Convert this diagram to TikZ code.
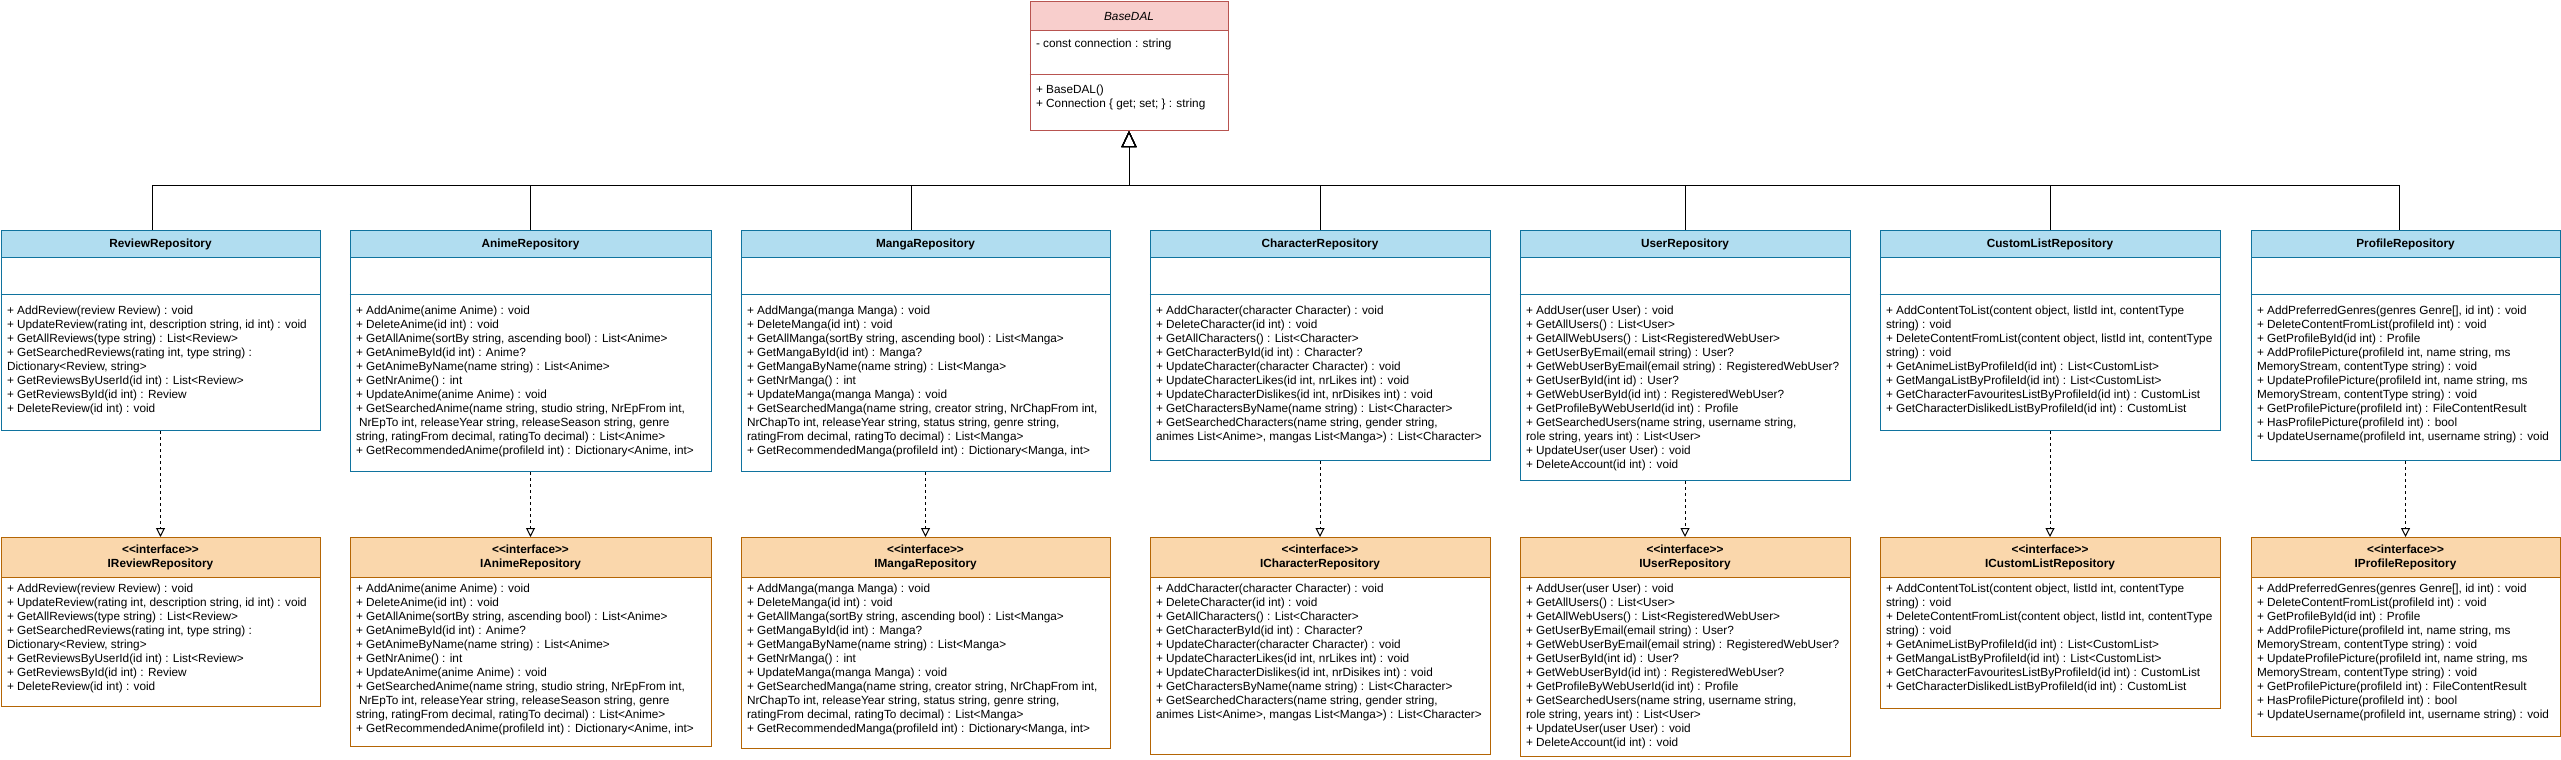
\documentclass[tikz,border=0pt]{standalone}
\usepackage{fontspec}
\setmainfont{Liberation Sans}
\usetikzlibrary{arrows.meta,positioning}

\definecolor{dalfill}{HTML}{F8CECC}
\definecolor{daldraw}{HTML}{B85450}
\definecolor{repofill}{HTML}{B1DDF0}
\definecolor{repodraw}{HTML}{10739E}
\definecolor{ifacefill}{HTML}{FAD7AC}
\definecolor{ifacedraw}{HTML}{B46504}

% method lists, shared by class and interface
\newcommand{\opsReview}{+ AddReview(review Review) : void\\
+ UpdateReview(rating int, description string, id int) : void\\
+ GetAllReviews(type string) : List<Review>\\
+ GetSearchedReviews(rating int, type string) :\\
Dictionary<Review, string>\\
+ GetReviewsByUserId(id int) : List<Review>\\
+ GetReviewsById(id int) : Review\\
+ DeleteReview(id int) : void}
\newcommand{\opsAnime}{+ AddAnime(anime Anime) : void\\
+ DeleteAnime(id int) : void\\
+ GetAllAnime(sortBy string, ascending bool) : List<Anime>\\
+ GetAnimeById(id int) : Anime?\\
+ GetAnimeByName(name string) : List<Anime>\\
+ GetNrAnime() : int\\
+ UpdateAnime(anime Anime) : void\\
+ GetSearchedAnime(name string, studio string, NrEpFrom int,\\
\hspace*{3pt}NrEpTo int, releaseYear string, releaseSeason string, genre\\
string, ratingFrom decimal, ratingTo decimal) : List<Anime>\\
+ GetRecommendedAnime(profileId int) : Dictionary<Anime, int>}
\newcommand{\opsManga}{+ AddManga(manga Manga) : void\\
+ DeleteManga(id int) : void\\
+ GetAllManga(sortBy string, ascending bool) : List<Manga>\\
+ GetMangaById(id int) : Manga?\\
+ GetMangaByName(name string) : List<Manga>\\
+ GetNrManga() : int\\
+ UpdateManga(manga Manga) : void\\
+ GetSearchedManga(name string, creator string, NrChapFrom int,\\
NrChapTo int, releaseYear string, status string, genre string,\\
ratingFrom decimal, ratingTo decimal) : List<Manga>\\
+ GetRecommendedManga(profileId int) : Dictionary<Manga, int>}
\newcommand{\opsCharacter}{+ AddCharacter(character Character) : void\\
+ DeleteCharacter(id int) : void\\
+ GetAllCharacters() : List<Character>\\
+ GetCharacterById(id int) : Character?\\
+ UpdateCharacter(character Character) : void\\
+ UpdateCharacterLikes(id int, nrLikes int) : void\\
+ UpdateCharacterDislikes(id int, nrDisikes int) : void\\
+ GetCharactersByName(name string) : List<Character>\\
+ GetSearchedCharacters(name string, gender string,\\
animes List<Anime>, mangas List<Manga>) : List<Character>}
\newcommand{\opsUser}{+ AddUser(user User) : void\\
+ GetAllUsers() : List<User>\\
+ GetAllWebUsers() : List<RegisteredWebUser>\\
+ GetUserByEmail(email string) : User?\\
+ GetWebUserByEmail(email string) : RegisteredWebUser?\\
+ GetUserById(int id) : User?\\
+ GetWebUserById(id int) : RegisteredWebUser?\\
+ GetProfileByWebUserId(id int) : Profile\\
+ GetSearchedUsers(name string, username string,\\
role string, years int) : List<User>\\
+ UpdateUser(user User) : void\\
+ DeleteAccount(id int) : void}
\newcommand{\opsCustomList}{+ AddContentToList(content object, listId int, contentType\\
string) : void\\
+ DeleteContentFromList(content object, listId int, contentType\\
string) : void\\
+ GetAnimeListByProfileId(id int) : List<CustomList>\\
+ GetMangaListByProfileId(id int) : List<CustomList>\\
+ GetCharacterFavouritesListByProfileId(id int) : CustomList\\
+ GetCharacterDislikedListByProfileId(id int) : CustomList}
\newcommand{\opsProfile}{+ AddPreferredGenres(genres Genre[], id int) : void\\
+ DeleteContentFromList(profileId int) : void\\
+ GetProfileById(id int) : Profile\\
+ AddProfilePicture(profileId int, name string, ms\\
MemoryStream, contentType string) : void\\
+ UpdateProfilePicture(profileId int, name string, ms\\
MemoryStream, contentType string) : void\\
+ GetProfilePicture(profileId int) : FileContentResult\\
+ HasProfilePicture(profileId int) : bool\\
+ UpdateUsername(profileId int, username string) : void}
\newcommand{\iface}[1]{<\kern0pt<interface>\kern0pt>\\#1}

\tikzset{
  dalbox/.style={draw=daldraw, fill=white, anchor=north, inner sep=0pt},
  dalhead/.style={draw=daldraw, fill=dalfill, anchor=north, minimum height=29pt, inner sep=0pt},
  repobox/.style={draw=repodraw, fill=white, anchor=north, inner sep=0pt},
  repohead/.style={draw=repodraw, fill=repofill, anchor=north, minimum height=27pt, inner sep=0pt, font=\fontsize{11.8}{14}\selectfont\bfseries},
  ifacebox/.style={draw=ifacedraw, fill=white, anchor=north, inner sep=0pt},
  ifacehead/.style={draw=ifacedraw, fill=ifacefill, anchor=north, minimum height=40pt, inner sep=0pt, align=center, font=\fontsize{11.8}{14}\selectfont\bfseries},
  ops/.style={anchor=north west, align=left, inner sep=0pt, execute at begin node=\strut},
  inherit/.style={-{Triangle[open, length=16pt, width=15pt]}},
  realize/.style={dash pattern=on 3pt off 3pt, -{Triangle[open, length=9pt, width=9pt]}}
}

\begin{document}
\begin{tikzpicture}[x=1pt, y=-1pt, line width=1pt, font=\fontsize{11.8}{14}\selectfont]
  \useasboundingbox (0,0) rectangle (2561,760);

  % abstract base
  \node[dalbox, minimum width=198pt, minimum height=129pt] (basedal) at (1129,1) {};
  \node[dalhead, minimum width=198pt] (basedalhead) at (basedal.north) {\itshape BaseDAL};
  \draw[daldraw] ([yshift=-73pt]basedal.north west) -- ([yshift=-73pt]basedal.north east);
  \node[ops] (basedalattr) at ([xshift=6pt, yshift=-36.2pt]basedal.north west) {- const connection : string};
  \node[ops] (basedalops) at ([xshift=6pt, yshift=-83.2pt]basedal.north west) {+ BaseDAL()\\+ Connection \{ get; set; \} : string};

  % repositories
  \node[repobox, minimum width=319pt, minimum height=200pt] (review) at (160.5,230) {};
  \node[repohead, minimum width=319pt] (reviewhead) at (review.north) {ReviewRepository};
  \draw[repodraw] ([yshift=-64pt]review.north west) -- ([yshift=-64pt]review.north east);
  \node[ops] (reviewops) at ([xshift=6pt, yshift=-75.3pt]review.north west) {\opsReview};

  \node[repobox, minimum width=361pt, minimum height=241pt] (anime) at (530.5,230) {};
  \node[repohead, minimum width=361pt] (animehead) at (anime.north) {AnimeRepository};
  \draw[repodraw] ([yshift=-64pt]anime.north west) -- ([yshift=-64pt]anime.north east);
  \node[ops] (animeops) at ([xshift=6pt, yshift=-75.3pt]anime.north west) {\opsAnime};

  \node[repobox, minimum width=369pt, minimum height=241pt] (manga) at (925.5,230) {};
  \node[repohead, minimum width=369pt] (mangahead) at (manga.north) {MangaRepository};
  \draw[repodraw] ([yshift=-64pt]manga.north west) -- ([yshift=-64pt]manga.north east);
  \node[ops] (mangaops) at ([xshift=6pt, yshift=-75.3pt]manga.north west) {\opsManga};

  \node[repobox, minimum width=340pt, minimum height=230pt] (character) at (1320,230) {};
  \node[repohead, minimum width=340pt] (characterhead) at (character.north) {CharacterRepository};
  \draw[repodraw] ([yshift=-64pt]character.north west) -- ([yshift=-64pt]character.north east);
  \node[ops] (characterops) at ([xshift=6pt, yshift=-75.3pt]character.north west) {\opsCharacter};

  \node[repobox, minimum width=330pt, minimum height=250pt] (user) at (1685,230) {};
  \node[repohead, minimum width=330pt] (userhead) at (user.north) {UserRepository};
  \draw[repodraw] ([yshift=-64pt]user.north west) -- ([yshift=-64pt]user.north east);
  \node[ops] (userops) at ([xshift=6pt, yshift=-75.3pt]user.north west) {\opsUser};

  \node[repobox, minimum width=340pt, minimum height=200pt] (customlist) at (2050,230) {};
  \node[repohead, minimum width=340pt] (customlisthead) at (customlist.north) {CustomListRepository};
  \draw[repodraw] ([yshift=-64pt]customlist.north west) -- ([yshift=-64pt]customlist.north east);
  \node[ops] (customlistops) at ([xshift=6pt, yshift=-75.3pt]customlist.north west) {\opsCustomList};

  \node[repobox, minimum width=309pt, minimum height=230pt] (profile) at (2405.5,230) {};
  \node[repohead, minimum width=309pt] (profilehead) at (profile.north) {ProfileRepository};
  \draw[repodraw] ([yshift=-64pt]profile.north west) -- ([yshift=-64pt]profile.north east);
  \node[ops] (profileops) at ([xshift=6pt, yshift=-75.3pt]profile.north west) {\opsProfile};

  % interfaces
  \node[ifacebox, minimum width=319pt, minimum height=169pt] (ireview) at (160.5,537) {};
  \node[ifacehead, minimum width=319pt] (ireviewhead) at (ireview.north) {\iface{IReviewRepository}};
  \node[ops] (ireviewops) at ([xshift=6pt, yshift=-46.2pt]ireview.north west) {\opsReview};

  \node[ifacebox, minimum width=361pt, minimum height=209pt] (ianime) at (530.5,537) {};
  \node[ifacehead, minimum width=361pt] (ianimehead) at (ianime.north) {\iface{IAnimeRepository}};
  \node[ops] (ianimeops) at ([xshift=6pt, yshift=-46.2pt]ianime.north west) {\opsAnime};

  \node[ifacebox, minimum width=369pt, minimum height=211pt] (imanga) at (925.5,537) {};
  \node[ifacehead, minimum width=369pt] (imangahead) at (imanga.north) {\iface{IMangaRepository}};
  \node[ops] (imangaops) at ([xshift=6pt, yshift=-46.2pt]imanga.north west) {\opsManga};

  \node[ifacebox, minimum width=340pt, minimum height=217pt] (icharacter) at (1320,537) {};
  \node[ifacehead, minimum width=340pt] (icharacterhead) at (icharacter.north) {\iface{ICharacterRepository}};
  \node[ops] (icharacterops) at ([xshift=6pt, yshift=-46.2pt]icharacter.north west) {\opsCharacter};

  \node[ifacebox, minimum width=330pt, minimum height=219pt] (iuser) at (1685,537) {};
  \node[ifacehead, minimum width=330pt] (iuserhead) at (iuser.north) {\iface{IUserRepository}};
  \node[ops] (iuserops) at ([xshift=6pt, yshift=-46.2pt]iuser.north west) {\opsUser};

  \node[ifacebox, minimum width=340pt, minimum height=171pt] (icustomlist) at (2050,537) {};
  \node[ifacehead, minimum width=340pt] (icustomlisthead) at (icustomlist.north) {\iface{ICustomListRepository}};
  \node[ops] (icustomlistops) at ([xshift=6pt, yshift=-46.2pt]icustomlist.north west) {\opsCustomList};

  \node[ifacebox, minimum width=309pt, minimum height=199pt] (iprofile) at (2405.5,537) {};
  \node[ifacehead, minimum width=309pt] (iprofilehead) at (iprofile.north) {\iface{IProfileRepository}};
  \node[ops] (iprofileops) at ([xshift=6pt, yshift=-46.2pt]iprofile.north west) {\opsProfile};

  % generalisation to BaseDAL
  \draw[inherit] ([xshift=-8.5pt]reviewhead.north) -- ++(0,-45) -| (basedal.south);
  \draw[inherit] (animehead.north) -- ++(0,-45) -| (basedal.south);
  \draw[inherit] ([xshift=-14.5pt]mangahead.north) -- ++(0,-45) -| (basedal.south);
  \draw[inherit] (characterhead.north) -- ++(0,-45) -| (basedal.south);
  \draw[inherit] (userhead.north) -- ++(0,-45) -| (basedal.south);
  \draw[inherit] (customlisthead.north) -- ++(0,-45) -| (basedal.south);
  \draw[inherit] ([xshift=-6.5pt]profilehead.north) -- ++(0,-45) -| (basedal.south);

  % realisation of interfaces
  \draw[realize] (review.south) -- (ireviewhead.north);
  \draw[realize] (anime.south) -- (ianimehead.north);
  \draw[realize] (manga.south) -- (imangahead.north);
  \draw[realize] (character.south) -- (icharacterhead.north);
  \draw[realize] (user.south) -- (iuserhead.north);
  \draw[realize] (customlist.south) -- (icustomlisthead.north);
  \draw[realize] (profile.south) -- (iprofilehead.north);
\end{tikzpicture}
\end{document}
